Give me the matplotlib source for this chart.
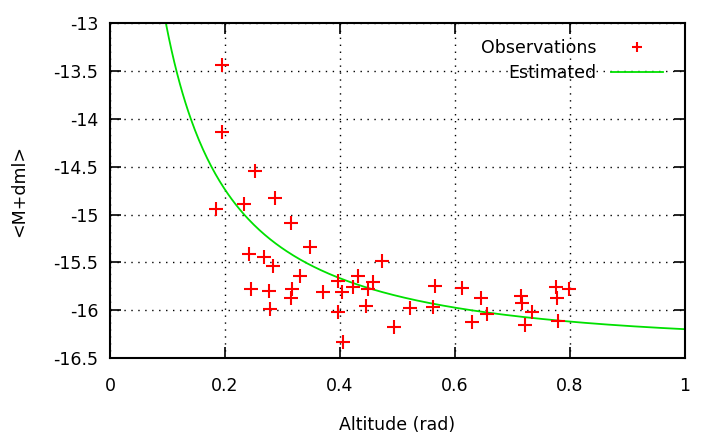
import numpy as np
import matplotlib
matplotlib.use("Agg")
import matplotlib.pyplot as plt

# observations
altitude = [0.195, 0.195, 0.252, 0.287, 0.184, 0.233, 0.315, 0.348, 0.242, 0.267,
            0.284, 0.330, 0.246, 0.277, 0.317, 0.315, 0.370, 0.279, 0.473, 0.432,
            0.396, 0.423, 0.458, 0.449, 0.403, 0.565, 0.613, 0.646, 0.446, 0.522,
            0.562, 0.396, 0.494, 0.630, 0.656, 0.405, 0.715, 0.717, 0.734, 0.722,
            0.776, 0.778, 0.780, 0.799]
mag = [-13.43, -14.14, -14.54, -14.83, -14.94, -14.89, -15.09, -15.34, -15.41, -15.44,
       -15.54, -15.64, -15.78, -15.80, -15.78, -15.87, -15.81, -15.99, -15.49, -15.64,
       -15.70, -15.76, -15.71, -15.78, -15.81, -15.75, -15.77, -15.87, -15.96, -15.98,
       -15.97, -16.02, -16.18, -16.12, -16.04, -16.33, -15.85, -15.93, -16.02, -16.16,
       -15.76, -15.87, -16.11, -15.78]

# fitted model: m0 + k * airmass(altitude)
m0 = -16.66
k_ext = 0.387

xticks = [0, 0.2, 0.4, 0.6, 0.8, 1]
xticklabels = ['0', '0.2', '0.4', '0.6', '0.8', '1']
yticks = [-16.5, -16, -15.5, -15, -14.5, -14, -13.5, -13]
yticklabels = ['-16.5', '-16', '-15.5', '-15', '-14.5', '-14', '-13.5', '-13']


def airmass(h):
    s = np.sin(h)
    return 1.0 / (s + 0.025 * np.exp(-11 * s))


plt.rcParams['font.family'] = ['DejaVu Sans']
fig = plt.figure(figsize=(7.19, 4.38), dpi=100)
ax = fig.add_axes([0.153, 0.183, 0.7997, 0.7635])

ax.plot(altitude, mag, linestyle='none', marker='+', color='#ff0000',
        markersize=10, markeredgewidth=1.5, label='Observations', zorder=3)
h = np.linspace(0.05, 1, 400)
ax.plot(h, m0 + k_ext * airmass(h), color='#00e000', lw=1.3, label='Estimated', zorder=2)

ax.set_xlim(0, 1)
ax.set_ylim(-16.5, -13)
ax.set_xticks(xticks)
ax.set_xticklabels(xticklabels)
ax.set_yticks(yticks)
ax.set_yticklabels(yticklabels)
ax.grid(True, color='black', linestyle=(0, (1, 4)), linewidth=1)
ax.tick_params(direction='in', length=8, width=1.2, top=True, right=True,
               labelsize=12.5)
ax.tick_params(axis='y', pad=8.5)
ax.tick_params(axis='x', pad=14)
for sp in ax.spines.values():
    sp.set_linewidth(1.5)

ax.set_xlabel('Altitude (rad)', fontsize=12.5, labelpad=15)
ax.set_ylabel('<M+dml>', fontsize=12.5, labelpad=18)

leg = ax.legend(loc='upper right', bbox_to_anchor=(0.962, 0.952), frameon=False,
                fontsize=12.5, markerfirst=False, handlelength=3.0, handletextpad=0.85,
                borderpad=0, borderaxespad=0, labelspacing=0.4, markerscale=0.7)
for t in leg.get_texts():
    t.set_ha('right')

fig.savefig('out.png', dpi=100)
